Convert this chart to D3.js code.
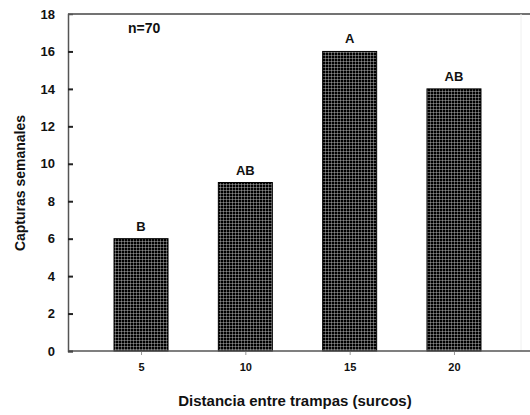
<!DOCTYPE html>
<html>
<head>
<meta charset="utf-8">
<script src="https://cdn.jsdelivr.net/npm/d3@7"></script>
<style>
  body { margin: 0; background: #fff; }
  text { font-family: Arial, "Liberation Sans", sans-serif; font-weight: bold; fill: #111; }
</style>
</head>
<body>
<div id="chart"></div>
<script>
// data
var distances = [5, 10, 15, 20];
var captures = [6, 9, 16, 14];
var letters = ['B', 'AB', 'A', 'AB'];
var yTicks = [0, 2, 4, 6, 8, 10, 12, 14, 16, 18];

var width = 530,
    height = 415;

var plot = { left: 68, right: 527, top: 14, bottom: 351 };

var svg = d3.select('#chart')
    .append('svg')
        .attr('width', width)
        .attr('height', height);

// crosshatch fill
var pat = svg.append('defs')
    .append('pattern')
        .attr('id', 'hatch')
        .attr('patternUnits', 'userSpaceOnUse')
        .attr('width', 3)
        .attr('height', 3);
pat.append('rect')
    .attr('width', 3)
    .attr('height', 3)
    .attr('fill', '#000');
pat.append('rect')
    .attr('x', 1)
    .attr('width', 1)
    .attr('height', 3)
    .attr('fill', '#555');
pat.append('rect')
    .attr('y', 1)
    .attr('width', 3)
    .attr('height', 1)
    .attr('fill', '#555');
pat.append('rect')
    .attr('x', 1)
    .attr('y', 1)
    .attr('width', 1)
    .attr('height', 1)
    .attr('fill', '#888');

var x = d3.scaleLinear()
    .domain([1.5, 23.5])
    .range([plot.left, plot.right]);

var y = d3.scaleLinear()
    .domain([0, 18])
    .range([plot.bottom, plot.top]);

var barW = 54;

// bars
svg.append('g')
    .selectAll('rect')
    .data(distances)
    .enter()
    .append('rect')
        .attr('x', function(d) { return x(d) - barW / 2; })
        .attr('y', function(d, i) { return y(captures[i]); })
        .attr('width', barW)
        .attr('height', function(d, i) { return y(0) - y(captures[i]); })
        .attr('fill', 'url(#hatch)')
        .attr('stroke', '#000')
        .attr('stroke-width', 1);

// letters above bars
svg.append('g')
    .selectAll('text')
    .data(distances)
    .enter()
    .append('text')
        .attr('x', function(d) { return x(d); })
        .attr('y', function(d, i) { return y(captures[i]) - 8; })
        .attr('text-anchor', 'middle')
        .style('font-size', '13px')
        .text(function(d, i) { return letters[i]; });

// frame: top, bottom, faint right
svg.append('line')
    .attr('x1', plot.left).attr('x2', width)
    .attr('y1', plot.top).attr('y2', plot.top)
    .attr('stroke', '#444').attr('stroke-width', 1.5);
svg.append('line')
    .attr('x1', 521).attr('x2', 521)
    .attr('y1', plot.top).attr('y2', plot.bottom)
    .attr('stroke', '#f0f0f0').attr('stroke-width', 1);

// y axis (ticks inward)
var yAxis = svg.append('g')
    .attr('transform', 'translate(' + plot.left + ',0)')
    .call(d3.axisLeft(y)
        .tickValues(yTicks)
        .tickSize(-5)
        .tickPadding(13));
yAxis.select('.domain').attr('stroke', '#555').attr('stroke-width', 1.5);
yAxis.selectAll('.tick line').attr('stroke', '#222').attr('stroke-width', 2);
yAxis.selectAll('.tick text')
    .style('font-size', '13px')
    .style('font-family', 'Arial, "Liberation Sans", sans-serif')
    .style('font-weight', 'bold')
    .attr('fill', '#111');
yAxis.select('.tick:last-of-type line').remove();

// x axis
var xAxis = svg.append('g')
    .attr('transform', 'translate(0,' + plot.bottom + ')')
    .call(d3.axisBottom(x)
        .tickValues(distances)
        .tickSize(4)
        .tickPadding(8));
xAxis.select('.domain').remove();
xAxis.append('line')
    .attr('x1', plot.left).attr('x2', width)
    .attr('stroke', '#555').attr('stroke-width', 1.5);
xAxis.selectAll('.tick line').attr('stroke', '#999');
xAxis.selectAll('.tick text')
    .style('font-size', '11px')
    .style('font-family', 'Arial, "Liberation Sans", sans-serif')
    .style('font-weight', 'bold')
    .attr('fill', '#111');

// n label
svg.append('text')
    .attr('x', 128)
    .attr('y', 33)
    .style('font-size', '14px')
    .text('n=70');

// axis titles
svg.append('text')
    .attr('x', 295)
    .attr('y', 406)
    .attr('text-anchor', 'middle')
    .style('font-size', '15px')
    .text('Distancia entre trampas (surcos)');

svg.append('text')
    .attr('transform', 'translate(25,183) rotate(-90)')
    .attr('text-anchor', 'middle')
    .style('font-size', '14px')
    .text('Capturas semanales');
</script>
</body>
</html>
